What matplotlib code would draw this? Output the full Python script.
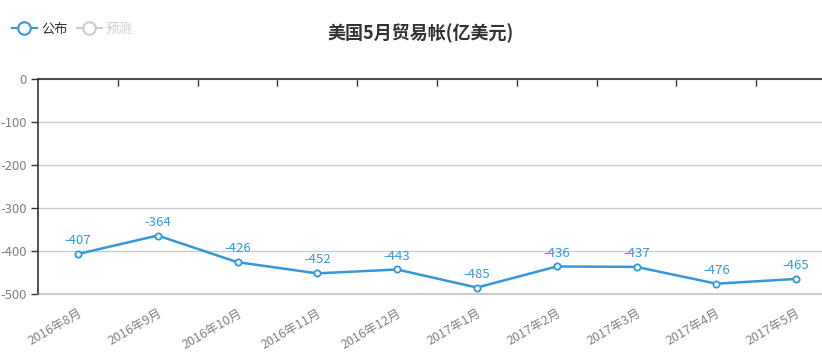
import matplotlib.pyplot as plt
from matplotlib.lines import Line2D

plt.rcParams['font.family'] = ['Noto Sans CJK SC', 'DejaVu Sans']

months = ["2016年8月", "2016年9月", "2016年10月", "2016年11月", "2016年12月",
          "2017年1月", "2017年2月", "2017年3月", "2017年4月", "2017年5月"]
published = [-407, -364, -426, -452, -443, -485, -436, -437, -476, -465]
yticks = [0, -100, -200, -300, -400, -500]

BLUE = '#3398db'
W, H = 822, 364

fig = plt.figure(figsize=(W / 100, H / 100), dpi=100)
# plot area: x from 38px to ~836px (runs off the right edge), y from 79px to 294px
ax = fig.add_axes([38 / W, (H - 294) / H, 798 / W, 215 / H])

x = list(range(len(months)))
ax.plot(x, published, color=BLUE, lw=1.8, marker='o', ms=4.5,
        mfc='white', mec=BLUE, mew=1.3, zorder=3, clip_on=False)
for xi, v in zip(x, published):
    ax.annotate(str(v), (xi, v), xytext=(0, 5), textcoords='offset points',
                ha='center', va='bottom', color=BLUE, fontsize=9.5)

ax.set_xlim(-0.5, len(months) - 0.5)
ax.set_ylim(-500, 0)
ax.set_yticks(yticks)
ax.set_yticklabels([str(t) for t in yticks])

ax.set_xticks(x)
ax.set_xticklabels(months, rotation=30, ha='right', rotation_mode='anchor')
ax.tick_params(axis='x', which='major', length=0, pad=9, labelsize=9,
               labelcolor='#808080')
ax.set_xticks([i + 0.5 for i in x[:-1]], minor=True)
ax.tick_params(axis='x', which='minor', top=True, bottom=False, direction='in',
               length=5, width=1, color='#333333')
ax.tick_params(axis='y', length=5, width=1, color='#333333', labelsize=9.5,
               labelcolor='#808080', pad=3)

ax.grid(axis='y', color='#cccccc', lw=1)
ax.axhline(-500, color='#cccccc', lw=1.5, clip_on=False, zorder=1)
ax.set_axisbelow(True)
for s in ['right', 'bottom']:
    ax.spines[s].set_visible(False)
ax.spines['top'].set_color('#333333')
ax.spines['left'].set_color('#333333')
ax.spines['top'].set_linewidth(1.2)
ax.spines['left'].set_linewidth(1.2)

fig.text(421 / W, 1 - 33 / H, "美国5月贸易帐(亿美元)", ha='center', va='center',
         fontsize=13, fontweight='bold', color='#333333')

handles = [
    Line2D([], [], color=BLUE, lw=1.5, marker='o', ms=9, mfc='white', mec=BLUE, mew=1.5),
    Line2D([], [], color='#cccccc', lw=1.5, marker='o', ms=9, mfc='white', mec='#cccccc', mew=1.5),
]
leg = fig.legend(handles, ["公布", "预测"], loc='center left',
                 bbox_to_anchor=(0 / W, 1 - 29 / H), ncol=2, frameon=False,
                 fontsize=9.5, handlelength=1.9, handletextpad=0.3, columnspacing=0.7)
leg.get_texts()[0].set_color('#333333')
leg.get_texts()[1].set_color('#cccccc')

fig.savefig('out.png', dpi=100)
